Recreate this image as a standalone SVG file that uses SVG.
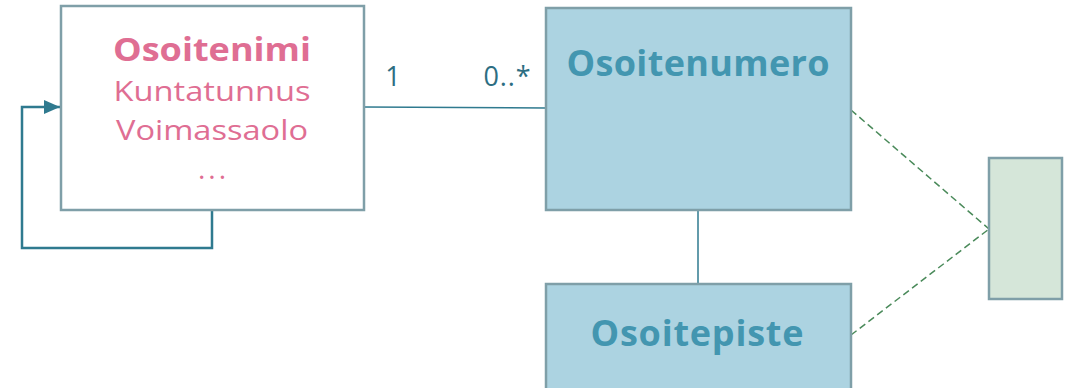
<svg xmlns="http://www.w3.org/2000/svg" width="1074" height="388" viewBox="0 0 1074 388">
<defs>
<style>
.box{stroke:#7f9fa8;stroke-width:2.5}
.t{font-family:"Open Sans","Noto Sans",sans-serif;text-anchor:middle}
.pk{fill:#df6e93}
.bl{fill:#4396b0;font-weight:bold;font-size:36px}
.lbl{font-family:"Open Sans",sans-serif;font-size:27px;fill:#2d6e82}
.conn{fill:none;stroke:#2f7a8f}
.dash{fill:none;stroke:#4a8a5a;stroke-width:1.5;stroke-dasharray:7 4}
</style>
<marker id="arr" viewBox="0 0 16 14" refX="16" refY="7" markerWidth="16" markerHeight="14" markerUnits="userSpaceOnUse" orient="auto">
<path d="M0,0 L16,7 L0,14 z" fill="#2f7a8f"/>
</marker>
</defs>
<g id="connectors">
<path class="conn" stroke-width="2.5" d="M212,210 V248 H22 V107 H60" marker-end="url(#arr)"/>
<path class="conn" stroke-width="1.5" d="M364,107 L546,108"/>
<path class="conn" stroke-width="1.5" d="M698,210 V284"/>
<path class="dash" d="M851,110 L989,229"/>
<path class="dash" d="M851,335 L989,229"/>
<text class="lbl" x="393" y="86" text-anchor="middle">1</text>
<text class="lbl" x="507" y="86" text-anchor="middle" textLength="47">0..*</text>
</g>
<g id="osoitenimi">
<rect class="box" x="61" y="6" width="303" height="204" fill="#ffffff"/>
<text class="t pk" x="212" y="61" font-size="33" font-weight="bold" textLength="198" lengthAdjust="spacingAndGlyphs">Osoitenimi</text>
<text class="t pk" x="212" y="101" font-size="28" textLength="197" lengthAdjust="spacingAndGlyphs">Kuntatunnus</text>
<text class="t pk" x="212" y="140" font-size="28" textLength="192" lengthAdjust="spacingAndGlyphs">Voimassaolo</text>
<text class="t pk" x="212" y="179" font-size="28" textLength="28">...</text>
</g>
<g id="osoitenumero">
<rect class="box" x="546" y="8" width="305" height="202" fill="#acd3e1"/>
<text class="t bl" x="698" y="76" textLength="263">Osoitenumero</text>
</g>
<g id="osoitepiste">
<rect class="box" x="546" y="284" width="305" height="110" fill="#acd3e1"/>
<text class="t bl" x="697" y="346" textLength="213">Osoitepiste</text>
</g>
<g id="green">
<rect class="box" x="989" y="158" width="73" height="141" fill="#d5e6d9"/>
</g>
</svg>
